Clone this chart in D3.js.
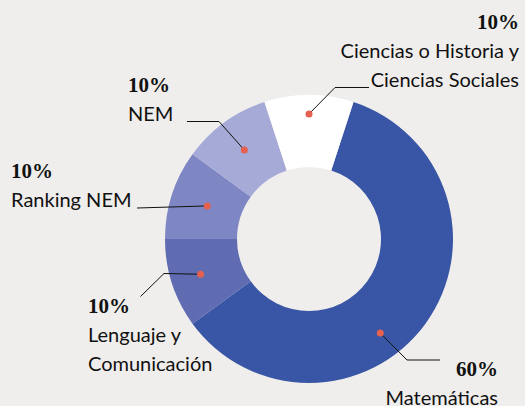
<!DOCTYPE html>
<html>
<head>
<meta charset="utf-8">
<script src="https://cdn.jsdelivr.net/npm/d3@7"></script>
<style>
  html, body { margin: 0; padding: 0; background: #efeeec; }
  svg { display: block; }
  .pct { font-family: "Liberation Serif", "DejaVu Serif", serif; font-weight: bold; font-size: 21px; fill: #111; }
  .name { font-family: Lato, "Open Sans", sans-serif; font-size: 20px; fill: #111; }
  .leader { fill: none; stroke: #111; stroke-width: 1; }
</style>
</head>
<body>
<div id="chart-area"><svg></svg></div>
<script>
const categories = ["Matemáticas", "Lenguaje y Comunicación", "Ranking NEM", "NEM", "Ciencias o Historia y Ciencias Sociales"];
const values = [60, 10, 10, 10, 10];
const pctLabels = ["60%", "10%", "10%", "10%", "10%"];
const nameLines = [["Matemáticas"], ["Lenguaje y", "Comunicación"], ["Ranking NEM"], ["NEM"], ["Ciencias o Historia y", "Ciencias Sociales"]];
const colors = ["#3856a5", "#5f6cb2", "#7e87c3", "#a5aad7", "#ffffff"];

const chartSize = { width: 525, height: 406 };
const center = { x: 309, y: 239 };
const radius = { inner: 72, outer: 144 };
const startOffset = 18 * Math.PI / 180;

// where the red dot sits inside each slice: fraction along the arc, radius
const dotPlace = [
  { t: 0.578, r: 118 },
  { t: 0.5, r: 114 },
  { t: 0.5, r: 107 },
  { t: 0.5, r: 110 },
  { t: 0.5, r: 125 }
];

// label text anchor and leader elbow
const labelPlace = [
  { x: 498, y: 375.5, anchor: "end", elbow: [407, 360], end: [440, 360] },
  { x: 88, y: 313, anchor: "start", elbow: [164, 273.5], end: [140.5, 296.5] },
  { x: 11, y: 178, anchor: "start", elbow: null, end: [137, 208] },
  { x: 128, y: 92, anchor: "start", elbow: [219, 121.5], end: [187, 121.5] },
  { x: 519, y: 28.5, anchor: "end", elbow: [335, 87.5], end: [369, 87.5] }
];
const lineGap = 29;

const svg = d3.select("#chart-area svg")
  .attr("width", chartSize.width)
  .attr("height", chartSize.height);

const g = svg.append("g").attr("transform", `translate(${center.x},${center.y})`);

const pie = d3.pie()
  .sort(null)
  .startAngle(startOffset)
  .endAngle(startOffset + 2 * Math.PI)
  .value(d => d);

const arcs = pie(values);

const arc = d3.arc().innerRadius(radius.inner).outerRadius(radius.outer);

g.selectAll("path.slice")
  .data(arcs)
  .enter()
  .append("path")
  .attr("class", "slice")
  .attr("d", arc)
  .attr("fill", (d, i) => colors[i]);

const dotPos = (d, i) => {
  const p = dotPlace[i];
  const a = d.startAngle + (d.endAngle - d.startAngle) * p.t;
  return [center.x + p.r * Math.sin(a), center.y - p.r * Math.cos(a)];
};

const dots = arcs.map(dotPos);

// leader lines
svg.selectAll("path.leader")
  .data(arcs)
  .enter()
  .append("path")
  .attr("class", "leader")
  .attr("d", (d, i) => {
    const pts = [dots[i]];
    if (labelPlace[i].elbow) pts.push(labelPlace[i].elbow);
    pts.push(labelPlace[i].end);
    return d3.line()(pts);
  });

svg.selectAll("circle.dot")
  .data(dots)
  .enter()
  .append("circle")
  .attr("class", "dot")
  .attr("cx", d => d[0])
  .attr("cy", d => d[1])
  .attr("r", 3.5)
  .attr("fill", "#e5604f");

// labels
const labels = svg.selectAll("g.label")
  .data(categories)
  .enter()
  .append("g")
  .attr("class", "label");

labels.append("text")
  .attr("class", "pct")
  .attr("x", (d, i) => labelPlace[i].x)
  .attr("y", (d, i) => labelPlace[i].y)
  .attr("text-anchor", (d, i) => labelPlace[i].anchor)
  .text((d, i) => pctLabels[i]);

labels.each(function(d, i) {
  const lp = labelPlace[i];
  nameLines[i].forEach((line, j) => {
    d3.select(this).append("text")
      .attr("class", "name")
      .attr("x", lp.x)
      .attr("y", lp.y + lineGap * (j + 1))
      .attr("text-anchor", lp.anchor)
      .text(line);
  });
});
</script>
</body>
</html>
